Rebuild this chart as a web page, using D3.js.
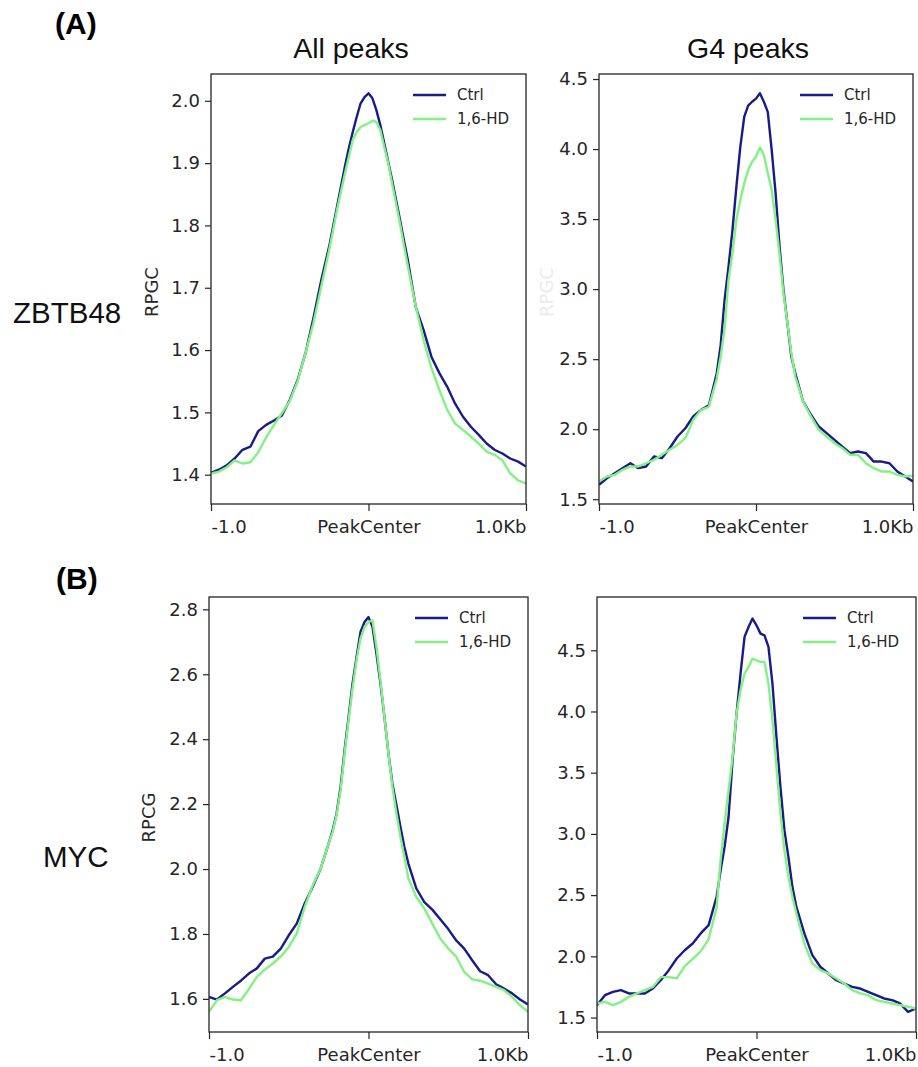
<!DOCTYPE html>
<html>
<head>
<meta charset="utf-8">
<script src="https://cdn.jsdelivr.net/npm/d3@7"></script>
<style>
  body { margin: 0; background: #ffffff; }
  svg { display: block; }
</style>
</head>
<body>
<svg id="fig" width="918" height="1067"></svg>
<script>
// Bin positions (bp relative to peak centre)
const bins = [-1000,-950,-900,-850,-800,-750,-700,-650,-600,-550,-500,-450,-400,-350,-300,-250,
  -225,-200,-175,-150,-125,-100,-75,-50,-25,0,25,50,75,100,125,150,175,200,225,
  250,300,350,400,450,500,550,600,650,700,750,800,850,900,950,1000];

const xTickValues = [-1000, 0, 1000];
const xTickLabels = ["-1.0", "PeakCenter", "1.0Kb"];
const seriesNames = ["Ctrl", "1,6-HD"];
const seriesColors = ["#1a1a8a", "#82f282"];

// ZBTB48, all peaks
const zbtbAllCtrl = [1.403,1.408,1.415,1.426,1.440,1.445,1.470,1.480,1.487,1.495,1.520,1.552,1.595,1.651,1.712,1.766,
  1.798,1.830,1.862,1.894,1.924,1.950,1.974,1.996,2.006,2.012,2.004,1.985,1.961,1.932,1.902,1.873,1.841,1.809,1.776,
  1.744,1.669,1.632,1.589,1.563,1.541,1.514,1.493,1.477,1.464,1.450,1.440,1.434,1.426,1.421,1.413];
const zbtbAllHD = [1.402,1.405,1.412,1.423,1.418,1.420,1.436,1.460,1.480,1.499,1.518,1.550,1.595,1.643,1.702,1.760,
  1.792,1.825,1.854,1.883,1.910,1.937,1.950,1.958,1.961,1.964,1.968,1.966,1.953,1.926,1.900,1.867,1.835,1.803,1.768,
  1.734,1.670,1.616,1.571,1.536,1.504,1.482,1.472,1.461,1.450,1.437,1.432,1.423,1.402,1.391,1.386];

// ZBTB48, G4 peaks
const zbtbG4Ctrl = [1.603,1.650,1.686,1.722,1.757,1.722,1.734,1.805,1.793,1.864,1.948,2.007,2.091,2.138,2.170,2.400,
  2.600,2.923,3.160,3.420,3.730,4.015,4.230,4.310,4.338,4.360,4.398,4.338,4.266,3.993,3.684,3.304,2.994,2.757,2.519,
  2.400,2.198,2.103,2.019,1.972,1.924,1.876,1.829,1.841,1.829,1.769,1.769,1.757,1.698,1.662,1.627];
const zbtbG4HD = [1.627,1.662,1.674,1.710,1.734,1.734,1.757,1.781,1.817,1.853,1.888,1.936,2.067,2.138,2.160,2.360,
  2.520,2.720,3.066,3.256,3.494,3.637,3.755,3.850,3.910,3.946,4.012,3.958,3.827,3.708,3.494,3.244,2.970,2.757,2.543,
  2.376,2.198,2.091,1.995,1.948,1.900,1.864,1.817,1.817,1.757,1.722,1.698,1.698,1.674,1.662,1.667];

// MYC, all peaks
const mycAllCtrl = [1.606,1.598,1.617,1.637,1.656,1.678,1.694,1.724,1.730,1.755,1.796,1.832,1.894,1.945,2.001,2.078,
  2.119,2.171,2.253,2.366,2.468,2.571,2.653,2.730,2.761,2.776,2.746,2.663,2.571,2.468,2.356,2.263,2.197,2.130,2.068,
  2.017,1.940,1.898,1.875,1.845,1.815,1.780,1.755,1.719,1.685,1.673,1.645,1.632,1.617,1.598,1.583];
const mycAllHD = [1.560,1.596,1.606,1.598,1.596,1.630,1.668,1.690,1.709,1.730,1.760,1.801,1.883,1.950,2.001,2.078,
  2.114,2.166,2.243,2.356,2.458,2.556,2.643,2.710,2.746,2.761,2.766,2.684,2.581,2.468,2.356,2.253,2.171,2.099,2.037,
  1.971,1.914,1.878,1.832,1.786,1.755,1.730,1.683,1.660,1.656,1.647,1.637,1.627,1.606,1.580,1.560];

// MYC, G4 peaks
const mycG4Ctrl = [1.601,1.683,1.710,1.724,1.697,1.697,1.697,1.737,1.805,1.887,1.982,2.050,2.105,2.187,2.255,2.486,
  2.703,2.894,3.140,3.602,3.983,4.310,4.609,4.690,4.759,4.704,4.636,4.622,4.527,4.228,3.792,3.384,3.030,2.812,2.568,
  2.404,2.187,2.010,1.915,1.860,1.805,1.778,1.751,1.737,1.710,1.683,1.656,1.642,1.615,1.547,1.574];
const mycG4HD = [1.615,1.628,1.601,1.628,1.669,1.697,1.724,1.750,1.830,1.830,1.820,1.920,1.980,2.040,2.140,2.400,
  2.785,3.085,3.357,3.629,3.983,4.173,4.310,4.364,4.432,4.418,4.405,4.405,4.228,3.930,3.548,3.167,2.867,2.649,2.486,
  2.350,2.105,1.942,1.887,1.860,1.819,1.778,1.724,1.697,1.683,1.642,1.628,1.615,1.601,1.588,1.574];

// Y tick values per panel
const zbtbAllTicks = [1.4,1.5,1.6,1.7,1.8,1.9,2.0];
const zbtbG4Ticks = [1.5,2.0,2.5,3.0,3.5,4.0,4.5];
const mycAllTicks = [1.6,1.8,2.0,2.2,2.4,2.6,2.8];
const mycG4Ticks = [1.5,2.0,2.5,3.0,3.5,4.0,4.5];

const panels = [
  { series: [zbtbAllCtrl, zbtbAllHD], ticks: zbtbAllTicks, domain: [1.353, 2.043],
    box: { l: 211, r: 526, t: 74, b: 504 }, ylabel: "RPGC", ylabelX: 152, ylabelColor: "#262626" },
  { series: [zbtbG4Ctrl, zbtbG4HD], ticks: zbtbG4Ticks, domain: [1.466, 4.536],
    box: { l: 599, r: 913, t: 74, b: 504 }, ylabel: "RPGC", ylabelX: 547, ylabelColor: "#ebebeb" },
  { series: [mycAllCtrl, mycAllHD], ticks: mycAllTicks, domain: [1.498, 2.838],
    box: { l: 209, r: 528, t: 597, b: 1032 }, ylabel: "RPCG", ylabelX: 149, ylabelColor: "#262626" },
  { series: [mycG4Ctrl, mycG4HD], ticks: mycG4Ticks, domain: [1.382, 4.935],
    box: { l: 597, r: 916, t: 597, b: 1032 }, ylabel: null }
];

const svg = d3.select("#fig");
const ink = "#262626";
const tickFont = "'DejaVu Sans', sans-serif";
const titleFont = "'Liberation Sans', Arial, Helvetica, sans-serif";

panels.forEach((p, i) => {
  const { l, r, t, b } = p.box;
  const x = d3.scaleLinear().domain([-1000, 1000]).range([l, r]);
  const y = d3.scaleLinear().domain(p.domain).range([b, t]);

  const g = svg.append("g");
  const clipId = "clip" + i;
  svg.append("clipPath").attr("id", clipId)
    .append("rect").attr("x", l).attr("y", t).attr("width", r - l).attr("height", b - t);

  // profile lines
  const line = d3.line().x((d, k) => x(bins[k])).y(d => y(d));
  p.series.forEach((vals, s) => {
    g.append("path")
      .datum(vals)
      .attr("clip-path", `url(#${clipId})`)
      .attr("fill", "none")
      .attr("stroke", seriesColors[s])
      .attr("stroke-width", 2.4)
      .attr("stroke-linejoin", "round")
      .attr("d", line);
  });

  // y axis
  const ya = g.append("g").attr("transform", `translate(${l},0)`)
    .call(d3.axisLeft(y).tickValues(p.ticks).tickFormat(d3.format(".1f")).tickSize(6).tickPadding(5));
  ya.select(".domain").remove();
  ya.selectAll("line").attr("stroke", ink).attr("stroke-width", 1.2);
  ya.selectAll("text").attr("fill", ink).style("font-family", tickFont).style("font-size", "18px");

  // x axis
  const xa = g.append("g").attr("transform", `translate(0,${b})`)
    .call(d3.axisBottom(x).tickValues(xTickValues).tickFormat((d, k) => xTickLabels[k]).tickSize(7).tickPadding(9));
  xa.select(".domain").remove();
  xa.selectAll("line").attr("stroke", ink).attr("stroke-width", 1.2);
  xa.selectAll("text").attr("fill", ink).style("font-family", tickFont).style("font-size", "18px")
    .attr("text-anchor", (d, k) => k === 0 ? "start" : (k === xTickValues.length - 1 ? "end" : "middle"));

  // frame
  g.append("rect").attr("x", l).attr("y", t).attr("width", r - l).attr("height", b - t)
    .attr("fill", "none").attr("stroke", ink).attr("stroke-width", 1.3);

  // y label
  if (p.ylabel) {
    g.append("text")
      .attr("transform", `translate(${p.ylabelX},${(t + b) / 2 + 3}) rotate(-90)`)
      .attr("text-anchor", "middle").attr("dy", "0.35em")
      .attr("fill", p.ylabelColor)
      .style("font-family", tickFont).style("font-size", "18px")
      .text(p.ylabel);
  }

  // legend
  const lg = g.append("g").attr("transform", `translate(${r - 113},${t + 21})`);
  seriesNames.forEach((name, s) => {
    lg.append("line").attr("x1", 0).attr("x2", 33).attr("y1", s * 24).attr("y2", s * 24)
      .attr("stroke", seriesColors[s]).attr("stroke-width", 2.4);
    lg.append("text").attr("x", 44).attr("y", s * 24).attr("dy", "0.35em")
      .attr("fill", ink).style("font-family", tickFont).style("font-size", "15px")
      .text(name);
  });
});

// column titles
svg.append("text").attr("x", 351).attr("y", 58).attr("text-anchor", "middle")
  .style("font-family", titleFont).style("font-size", "28.5px").attr("fill", "#111").text("All peaks");
svg.append("text").attr("x", 748).attr("y", 58).attr("text-anchor", "middle")
  .style("font-family", titleFont).style("font-size", "28.5px").attr("fill", "#111").text("G4 peaks");

// row labels
svg.append("text").attr("x", 13).attr("y", 323).style("font-family", titleFont)
  .style("font-size", "29.5px").attr("fill", "#111").text("ZBTB48");
svg.append("text").attr("x", 43).attr("y", 867).style("font-family", titleFont)
  .style("font-size", "29.5px").attr("fill", "#111").text("MYC");

// panel letters
svg.append("text").attr("x", 55).attr("y", 34).style("font-family", titleFont)
  .style("font-size", "30px").style("font-weight", "bold").attr("fill", "#000").text("(A)");
svg.append("text").attr("x", 56).attr("y", 589).style("font-family", titleFont)
  .style("font-size", "30px").style("font-weight", "bold").attr("fill", "#000").text("(B)");
</script>
</body>
</html>
